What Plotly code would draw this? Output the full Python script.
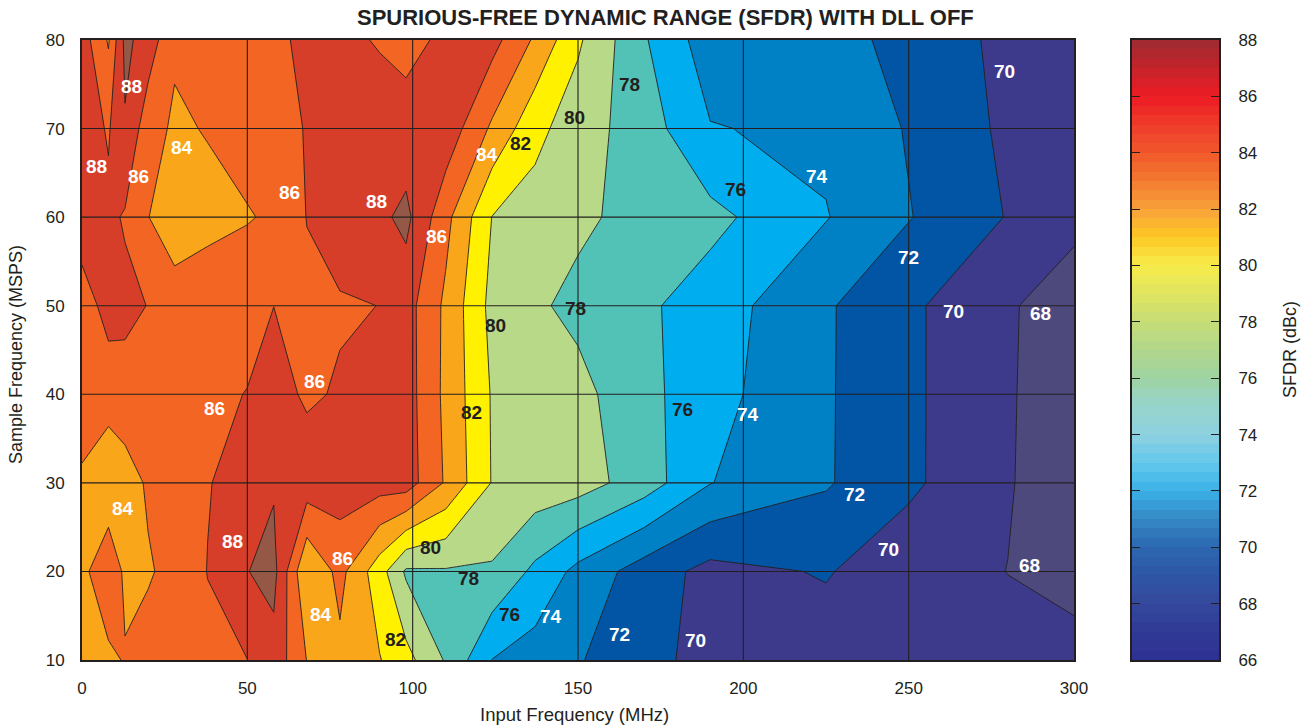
import numpy as np
import plotly.graph_objects as go

# Measurement grid: input frequency (MHz) columns, sample rate (MSPS) rows
input_freq_mhz = [0, 8, 13, 20, 28, 38, 50, 58, 68, 78, 90, 98, 110, 124, 137, 150, 170, 190, 225, 250, 280, 300]
sample_freq_msps = [10, 20, 30, 40, 50, 60, 70, 80]

# SFDR (dBc) per sample rate, one value per input-frequency column
sfdr_10msps = [83.2, 83.6, 84.13, 84.8, 85.0, 85.5, 85.98, 87.3, 83.95, 83.5, 82.1, 80.67, 77.81, 73.97, 73.07, 72.15, 70.65, 69.3, 69.0, 68.8, 68.5, 68.4]
sfdr_20msps = [83.5, 85.4, 83.65, 83.8, 84.6, 86.05, 87.95, 88.6, 82.05, 84.6, 80.84, 77.7, 77.8, 77.75, 75.55, 73.43, 71.05, 69.38, 70.15, 68.76, 67.98, 67.6]
sfdr_30msps = [83.8, 82.6, 83.1, 84.25, 85.1, 85.9, 86.8, 87.8, 87.13, 87.0, 86.9, 87.0, 83.77, 79.9, 79.25, 78.9, 77.0, 74.06, 72.19, 70.39, 68.12, 67.0]
sfdr_40msps = [84.7, 84.8, 85.2, 85.3, 85.4, 85.7, 86.04, 86.8, 85.7, 86.2, 86.8, 86.9, 83.54, 79.84, 79.05, 78.6, 76.58, 74.71, 72.21, 70.39, 68.16, 67.0]
sfdr_50msps = [84.9, 86.8, 86.5, 85.95, 85.06, 85.28, 85.5, 85.99, 85.6, 85.8, 86.02, 86.83, 83.6, 79.4, 78.3, 77.5, 76.35, 75.02, 72.23, 70.38, 68.21, 67.0]
sfdr_60msps = [87.3, 86.45, 85.8, 84.05, 82.7, 83.37, 83.86, 84.29, 86.05, 87.0, 87.57, 88.5, 84.6, 79.96, 79.17, 78.38, 77.32, 76.57, 74.1, 72.1, 69.9, 68.5]
sfdr_70msps = [87.1, 85.8, 87.8, 84.8, 83.7, 84.12, 84.8, 85.3, 86.1, 86.9, 87.2, 86.8, 87.3, 83.66, 80.57, 78.93, 76.98, 74.1, 73.6, 71.85, 69.6, 69.2]
sfdr_80msps = [87.0, 83.8, 88.5, 87.1, 84.3, 84.9, 85.4, 85.7, 86.3, 86.6, 85.8, 85.4, 86.4, 86.7, 83.7, 80.3, 76.2, 72.9, 72.5, 71.6, 69.4, 69.0]

sfdr_grid = [sfdr_10msps, sfdr_20msps, sfdr_30msps, sfdr_40msps,
             sfdr_50msps, sfdr_60msps, sfdr_70msps, sfdr_80msps]

# Contour levels and the fill colour of each band (below 68 ... above 88)
level_start, level_end, level_step = 68, 88, 2
band_colors = ["#4e497d", "#3d3a8b", "#0255a5", "#0080c5", "#00aeef", "#52c2b7",
               "#b7d988", "#fff100", "#faa61a", "#f26522", "#d63e2a", "#965846"]

# Contour labels: position (MHz, MSPS), level text, text colour
label_x = [15.0, 4.4, 17.0, 30.3, 62.6, 89.1, 107.3, 122.6, 40.0, 70.3, 12.5, 45.6, 78.8, 72.2,
           222.4, 249.9, 278.9, 263.5, 290.0, 201.5, 233.6, 243.8, 286.4, 141.8, 162.7, 185.6,
           165.7, 148.8, 132.5, 197.5, 149.3, 125.2, 117.9, 181.7, 105.5, 116.8, 129.4, 94.9]
label_y = [74.7, 65.7, 64.6, 67.9, 62.8, 61.8, 57.8, 67.1, 38.4, 41.5, 27.1, 23.4, 21.5, 15.1,
           64.6, 55.4, 76.5, 49.4, 49.1, 37.7, 28.7, 22.5, 20.7, 14.9, 12.9, 12.2,
           75.0, 71.2, 68.3, 63.1, 49.7, 47.8, 38.0, 38.3, 22.7, 19.2, 15.1, 12.3]
label_text = ["88", "88", "86", "84", "86", "88", "86", "84", "86", "86", "84", "88", "86", "84",
              "74", "72", "70", "70", "68", "74", "72", "70", "68", "74", "72", "70",
              "78", "80", "82", "76", "78", "80", "82", "76", "80", "78", "76", "82"]
label_color = ["#ffffff"] * 26 + ["#231f20"] * 12

# Colour bar ramp anchors (dBc, colour)
bar_levels = [66, 67, 68, 69, 70, 71, 72, 73, 74, 75, 76, 77, 78, 79, 80, 81, 82, 83, 84, 85, 86, 87, 88]
bar_colors = ["#2e3192", "#2f3a95", "#35489c", "#2f56a5", "#2b68b0", "#3688c5", "#3ab2e6", "#64c7ec",
              "#8ed1df", "#97d4cc", "#9fd3a3", "#b2d78b", "#c6dd77", "#dfe55f", "#f7ec4a", "#fdc825",
              "#f8a23a", "#f47a30", "#f0582b", "#ee3b2a", "#ed1c24", "#c5232b", "#9b2b31"]
bar_min, bar_max, bar_steps = 66, 88, 66

ink = "#231f20"
font_family = "Liberation Sans, Arial, Helvetica, sans-serif"

W, H = 1307, 725
plot_l, plot_r, plot_t, plot_b = 82, 1074, 40, 660
bar_l, bar_r = 1132, 1219

n_bands = len(band_colors) - 1
band_scale = [[i / n_bands, c] for i, c in enumerate(band_colors)]
bar_scale = [[(v - bar_min) / (bar_max - bar_min), c] for v, c in zip(bar_levels, bar_colors)]

fig = go.Figure()

fig.add_trace(go.Contour(
    x=input_freq_mhz, y=sample_freq_msps, z=sfdr_grid,
    autocontour=False,
    contours=dict(start=level_start, end=level_end, size=level_step,
                  coloring="fill", showlabels=False),
    colorscale=band_scale,
    line=dict(color=ink, width=0.9, smoothing=0),
    showscale=False,
    hoverinfo="skip",
))

# Stepped colour ramp drawn as a one-column heatmap on its own axes
ramp_edges = np.linspace(bar_min, bar_max, bar_steps + 1)
ramp_mid = (ramp_edges[:-1] + ramp_edges[1:]) / 2
fig.add_trace(go.Heatmap(
    x=[0, 1], y=ramp_edges, z=[[v] for v in ramp_mid],
    colorscale=bar_scale, zmin=bar_min, zmax=bar_max,
    showscale=False, hoverinfo="skip",
    xaxis="x2", yaxis="y2",
))

x_ticks = [0, 50, 100, 150, 200, 250, 300]
y_ticks = [10, 20, 30, 40, 50, 60, 70, 80]

# Grid lines drawn on top of the filled contours
shapes = []
for xv in x_ticks[1:-1]:
    shapes.append(dict(type="line", xref="x", yref="y", x0=xv, x1=xv, y0=10, y1=80,
                       line=dict(color=ink, width=1.1), layer="above"))
for yv in y_ticks[1:-1]:
    shapes.append(dict(type="line", xref="x", yref="y", x0=0, x1=300, y0=yv, y1=yv,
                       line=dict(color=ink, width=1.1), layer="above"))

annotations = []
for lx, ly, lt, lc in zip(label_x, label_y, label_text, label_color):
    annotations.append(dict(x=lx, y=ly, xref="x", yref="y", text="<b>%s</b>" % lt,
                            showarrow=False, xanchor="center", yanchor="middle",
                            font=dict(family=font_family, size=19, color=lc)))

annotations += [
    dict(x=666 / W, y=1 - 17 / H, xref="paper", yref="paper",
         text="<b>SPURIOUS-FREE DYNAMIC RANGE (SFDR) WITH DLL OFF</b>",
         showarrow=False, xanchor="center", yanchor="middle",
         font=dict(family=font_family, size=22, color=ink)),
    dict(x=574 / W, y=1 - 714 / H, xref="paper", yref="paper",
         text="Input Frequency (MHz)", showarrow=False, xanchor="center", yanchor="middle",
         font=dict(family=font_family, size=18.5, color=ink)),
    dict(x=16 / W, y=1 - 355 / H, xref="paper", yref="paper",
         text="Sample Frequency (MSPS)", showarrow=False, textangle=-90,
         xanchor="center", yanchor="middle",
         font=dict(family=font_family, size=18, color=ink)),
    dict(x=1290 / W, y=1 - 350 / H, xref="paper", yref="paper",
         text="SFDR (dBc)", showarrow=False, textangle=-90,
         xanchor="center", yanchor="middle",
         font=dict(family=font_family, size=18, color=ink)),
]

y_domain = [1 - plot_b / H, 1 - plot_t / H]
tick_font = dict(family=font_family, size=17, color=ink)

fig.update_layout(
    width=W, height=H,
    margin=dict(l=0, r=0, t=0, b=0, autoexpand=False),
    paper_bgcolor="white", plot_bgcolor="white",
    showlegend=False,
    xaxis=dict(domain=[plot_l / W, plot_r / W], range=[0, 300], tickvals=x_ticks,
               showgrid=False, zeroline=False, ticks="", tickfont=tick_font,
               showline=True, mirror=True, linecolor=ink, linewidth=2,
               ticklabelstandoff=12, automargin=False),
    yaxis=dict(domain=y_domain, range=[10, 80], tickvals=y_ticks,
               showgrid=False, zeroline=False, ticks="", tickfont=tick_font,
               showline=True, mirror=True, linecolor=ink, linewidth=2,
               ticklabelstandoff=12, automargin=False),
    xaxis2=dict(domain=[bar_l / W, bar_r / W], range=[0, 1], anchor="y2",
                showticklabels=False, showgrid=False, zeroline=False, ticks="",
                showline=True, mirror=True, linecolor=ink, linewidth=2, automargin=False),
    yaxis2=dict(domain=y_domain, range=[bar_min, bar_max], anchor="x2", side="right",
                tickvals=list(range(66, 89, 2)), ticks="inside", ticklen=8, tickwidth=1,
                tickcolor=ink, showgrid=False, zeroline=False, tickfont=tick_font,
                showline=True, mirror="ticks", linecolor=ink, linewidth=2,
                ticklabelstandoff=14, automargin=False),
    shapes=shapes,
    annotations=annotations,
)

fig.write_html("out.html")
